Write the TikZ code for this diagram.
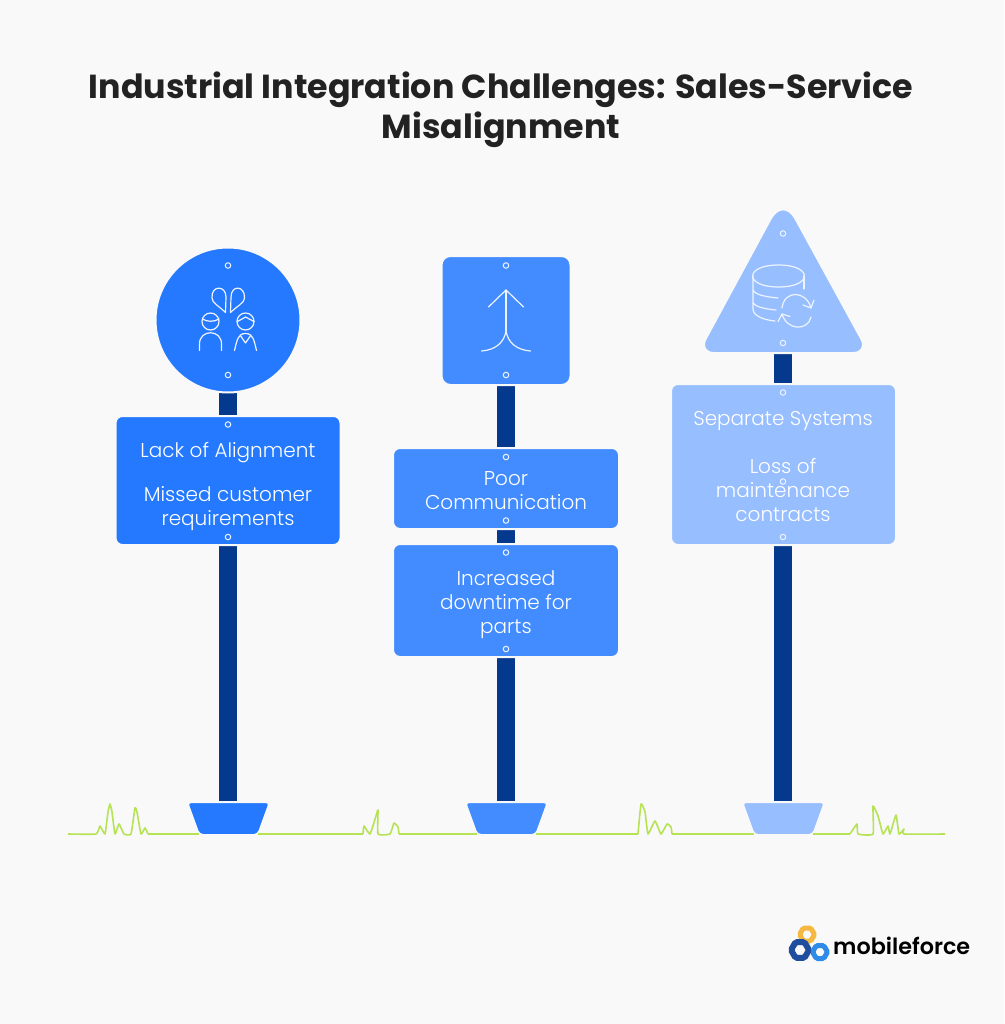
\documentclass[tikz,border=0pt]{standalone}
\usepackage{fontspec}
\setmainfont{Poppins}
\newfontfamily\signfont{Poppins}[UprightFont=* Light]
\newfontfamily\headfont{Poppins}[UprightFont=* Bold]
\newfontfamily\brandfont{Poppins}[UprightFont=* SemiBold]
\usetikzlibrary{positioning,backgrounds,shapes.geometric}
\definecolor{paper}{HTML}{F9F9F9}
\definecolor{signA}{HTML}{2579FF}
\definecolor{signB}{HTML}{438CFF}
\definecolor{signC}{HTML}{97BEFF}
\definecolor{poleblue}{HTML}{04398E}
\definecolor{grass}{HTML}{B5E354}
\definecolor{inkdark}{HTML}{222222}
\definecolor{markwhite}{HTML}{EDF4FF}
\definecolor{nutyellow}{HTML}{F5B841}
\definecolor{nutdark}{HTML}{1F4E9E}
\definecolor{nutlight}{HTML}{2E8BE8}
\begin{document}
\begin{tikzpicture}[
    x=1pt, y=-1pt,
    % Styles
    sign/.style={% For the plates, the outline keeps a gap to the pole
        draw=paper,
        line width=2pt,
        inner sep=0pt,
        outer sep=0pt,
        },
    board/.style={%For the rectangular plates
        sign,
        rectangle,
        rounded corners=7pt,
        },
    signtext/.style={%For the words on the plates
        text=white,
        align=center,
        font=\signfont\fontsize{20}{24}\selectfont,
        },
    hole/.style={%For the screw holes
        circle,
        draw=markwhite,
        line width=1pt,
        inner sep=0pt,
        minimum size=5.5pt,
        },
    pole/.style={% For the posts
        poleblue,
        line width=18pt,
        },
    footing/.style={% For the foot of each post
        draw=paper,
        line width=2pt,
        rounded corners=4pt,
        },
    icon/.style={% For the pictograms
        draw=markwhite,
        line width=1.2pt,
        line cap=round,
        line join=round,
        },
    blade/.style={% For the ground line
        draw=grass,
        line width=1.6pt,
        line join=round,
        },
    nut/.style={% For the logo
        regular polygon,
        regular polygon sides=6,
        draw=#1,
        rounded corners=1.5pt,
        inner sep=0pt,
        },
    ]

    % Title
    \node[text=inkdark, align=center, font=\headfont\fontsize{33.3}{40}\selectfont] (title) at (501,110)
        {Industrial Integration Challenges: Sales-Service\\Misalignment};

    % Plates of the first post
    \node[sign, circle, minimum size=145pt, fill=signA] (circleA) at (228,320) {};
    \node[board, minimum width=225pt, minimum height=129pt, fill=signA] (boardA) at (228,480.5) {};
    \coordinate (footA) at (228,818);
    \coordinate (footAleft) at (199,834);
    \coordinate (footAright) at (258,834);
    \fill[footing, fill=signA] (187,802) -- (270,802) -- (258,835) -- (199,835) -- cycle;

    % Plates of the second post
    \node[board, rounded corners=9pt, minimum width=129pt, minimum height=129pt, fill=signB] (squareB) at (506,320.5) {};
    \node[board, minimum width=226pt, minimum height=81pt, fill=signB] (boardB) at (506,488.5) {};
    \node[board, minimum width=226pt, minimum height=113pt, fill=signB] (boardBB) at (506,600.5) {};
    \coordinate (footB) at (506,818);
    \coordinate (footBleft) at (477,834);
    \coordinate (footBright) at (536,834);
    \fill[footing, fill=signB] (465,802) -- (548,802) -- (536,835) -- (477,835) -- cycle;

    % Plates of the third post
    \coordinate (triangleC) at (783,340);
    \draw[fill=signC, draw=paper, line width=2pt] (783,353) [rounded corners=16pt] -- (698,353) [rounded corners=26pt] -- (783,196) [rounded corners=16pt] -- (869,353) -- cycle;
    \node[board, minimum width=225pt, minimum height=161pt, fill=signC] (boardC) at (783.5,464.5) {};
    \coordinate (footC) at (783,818);
    \coordinate (footCleft) at (754,834);
    \coordinate (footCright) at (813,834);
    \fill[footing, fill=signC] (742,802) -- (825,802) -- (813,835) -- (754,835) -- cycle;

    % Posts go behind everything
    \begin{scope}[on background layer]
        \fill[paper] (0,0) rectangle (1004,1024);
        \draw[pole] (circleA) -- (footA);
        \draw[pole] (squareB) -- (footB);
        \draw[pole] (triangleC) -- (footC);
    \end{scope}

    % Words
    \node[signtext] (textA) at (228,487) {Lack of Alignment\\[20pt]Missed customer\\requirements};
    \node[signtext] (textB) at (506,491) {Poor\\Communication};
    \node[signtext] (textBB) at (506,605) {Increased\\downtime for\\parts};
    \node[signtext] (textC) at (783,467) {Separate Systems\\[24pt]Loss of\\maintenance\\contracts};

    % Screw holes
    \node[hole] (holeA1) at (228,265.5) {};
    \node[hole] (holeA2) at (228,375) {};
    \node[hole] (holeA3) at (228,424.5) {};
    \node[hole] (holeA4) at (228,537) {};
    \node[hole] (holeB1) at (506,265.5) {};
    \node[hole] (holeB2) at (506,375) {};
    \node[hole] (holeB3) at (506,457) {};
    \node[hole] (holeB4) at (506,520.5) {};
    \node[hole] (holeB5) at (506,552.5) {};
    \node[hole] (holeB6) at (506,649) {};
    \node[hole] (holeC1) at (783,233.5) {};
    \node[hole] (holeC2) at (783,343) {};
    \node[hole] (holeC3) at (783,392.5) {};
    \node[hole] (holeC4) at (783,481.5) {};
    \node[hole] (holeC5) at (783,537) {};

    % Pictogram: two people
    \draw[icon] (225.5,312.5) .. controls (219,306) and (212,303) .. (212,298) .. controls (211,285) and (226,285) .. (226,297) -- cycle;
    \draw[icon] (230.5,312.5) .. controls (237,306) and (244.5,303) .. (244.5,298) .. controls (245,285) and (231,285) .. (231,297) -- cycle;
    \draw[icon] (210.5,321.5) circle[radius=8.5];
    \draw[icon] (202.5,319) .. controls (207,322) and (214,322) .. (219,319);
    \draw[icon] (245.5,321.5) circle[radius=8.5];
    \draw[icon] (237.5,321.5) -- (245.5,317) -- (254,321.5);
    \draw[icon] (199.5,350.5) -- (199.5,344) .. controls (199.5,329) and (221.5,329) .. (221.5,344) -- (221.5,350.5);
    \draw[icon] (234.5,350.5) .. controls (237,340) and (238,333.5) .. (245.5,333.5) .. controls (253,333.5) and (254,340) .. (256.5,350.5);
    \draw[icon] (240,335) -- (245.5,343) -- (251,335);

    % Pictogram: merging arrow
    \draw[icon] (488.5,307) -- (506,290) -- (523.5,307);
    \draw[icon] (506,290) -- (506,331);
    \draw[icon] (481.5,351) .. controls (495,350) and (504,343) .. (506,331) .. controls (508,343) and (517,350) .. (530.5,351);

    % Pictogram: database with sync arrows
    \draw[icon] (778.5,265) .. controls (744,265) and (744,287) .. (778.5,287) .. controls (813,287) and (813,265) .. (778.5,265);
    \draw[icon] (804,276) -- (804,289);
    \draw[icon] (753,276) -- (753,309) .. controls (753,316) and (764,320) .. (775,321);
    \draw[icon] (753,290) .. controls (755,295) and (767,297) .. (778,298);
    \draw[icon] (753,303) .. controls (756,307) and (765,309) .. (776,310);
    \draw[icon] (782,308) .. controls (784,290) and (806,290) .. (811,308);
    \draw[icon] (803,305) -- (811,308) -- (814,300);
    \draw[icon] (811,317) .. controls (808,331) and (787,331) .. (782,314);
    \draw[icon] (778,321.5) -- (782,314) -- (790,316.5);

    % Ground line, with tufts
    \draw[blade] plot[smooth, tension=.25] coordinates {(68,834) (96,834) (100,826) (105,834) (108,812) (110,804) (112,812) (115,834) (119,824) (124,834) (131,834) (135,808) (137,812) (141,834) (145,828) (148,834)};
    \draw[blade] (148,834) -- (footAleft);
    \draw[blade] (footAright) -- (363,834);
    \draw[blade] plot[smooth, tension=.25] coordinates {(363,834) (364,826) (370,834) (376,816) (378,810) (378,834) (390,834) (394,823) (398,827) (399,834)};
    \draw[blade] (399,834) -- (footBleft);
    \draw[blade] (footBright) -- (638,834);
    \draw[blade] plot[smooth, tension=.25] coordinates {(638,834) (641,804) (645,812) (648,834) (655,821) (661,834) (667,824) (671,827) (672,834)};
    \draw[blade] (672,834) -- (footCleft);
    \draw[blade] (footCright) -- (850,834);
    \draw[blade] plot[smooth, tension=.25] coordinates {(850,834) (857,824) (858,834) (873,834) (873,806) (878,816) (883,834) (888,826) (890,834) (896,815) (899,834) (904,829) (904,834) (945,834)};

    % Logo
    \node[nut=nutyellow, line width=5pt, minimum size=15pt] (nutY) at (807,934.5) {};
    \node[nut=nutdark, line width=6pt, minimum size=18pt] (nutD) at (800,950) {};
    \node[nut=nutlight, line width=5pt, minimum size=15pt] (nutL) at (820,952) {};
    \node[text=black, inner sep=0pt, font=\brandfont\fontsize{22.3}{28}\selectfont, anchor=west] (brand) at (833,946) {mobileforce};
\end{tikzpicture}
\end{document}
